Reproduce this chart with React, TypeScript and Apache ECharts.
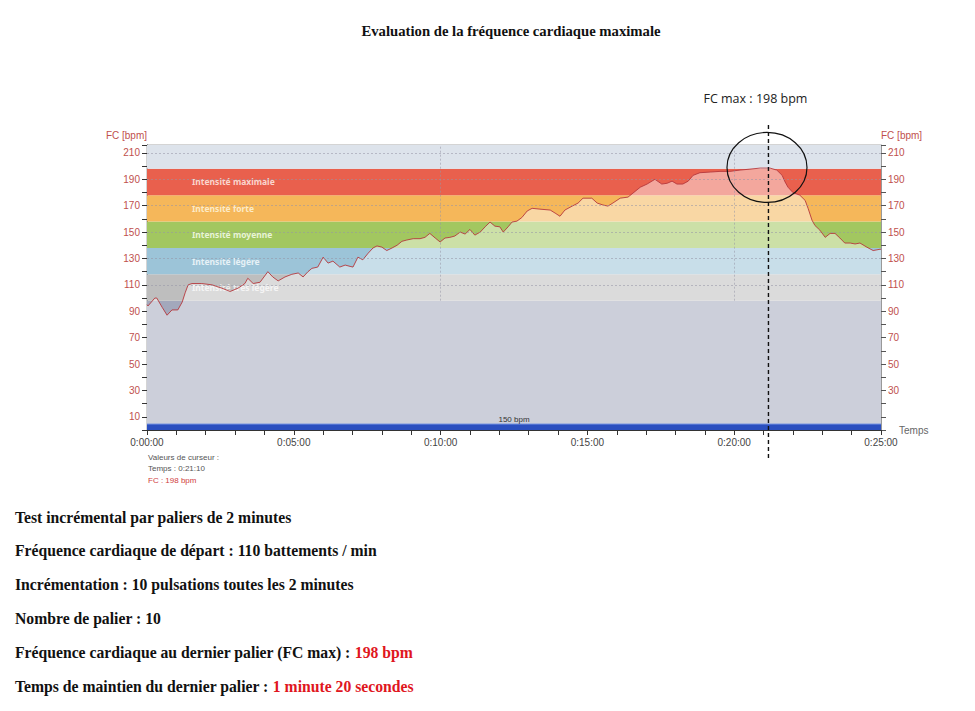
import React, { useEffect, useRef } from "react";
import * as echarts from "echarts";

// ---- data ----
const timeSec = [0,2,16,20,31,41,51,63,72,78,84,92,112,133,153,170,186,200,206,217,231,247,257,268,282,296,309,319,329,337,349,360,370,380,394,405,415,421,431,441,452,462,470,480,490,501,511,521,531,544,558,568,578,589,599,609,619,629,640,650,660,670,681,691,701,711,721,728,738,746,756,766,777,787,803,824,834,844,854,869,881,891,909,920,932,942,952,967,983,993,1008,1022,1038,1052,1063,1073,1083,1095,1106,1116,1130,1151,1171,1191,1212,1232,1253,1273,1287,1298,1304,1310,1320,1334,1345,1351,1359,1365,1375,1386,1396,1406,1416,1426,1437,1447,1457,1471,1484,1498,1500];
const hrBpm = [95,94,100,100,93,87,91,91,97,104,110,111,111,110,107.5,105,107.5,111,115,111,112,120,116,113,116,118,119,116,120,122.5,123.5,131,126.5,128,123.5,125,124,123.5,131,129,134,138,139.5,138.6,136,138,140,143,144,145,145,146,149,145.5,142.5,145.5,146,147,150,148.5,152,147.7,150,154,157.6,154.5,154,150,154,157.6,158.3,161,166,168,167.4,166.7,164.4,162,166.7,169.7,172,175.7,175.7,172,170.5,169.7,172,175.7,176.5,179.5,184,186.4,190,186.4,187,188.6,186.4,186.4,188.6,193,195,195.5,196,196,197,197.7,198.5,198.5,197,193,188,184,180,178,174,168,159,155,151.5,146,149,149,145.5,141.7,141.7,141,141.7,138.6,136,137,137];

const zoneLow = [0, 98, 118, 138, 158, 178, 198];
const zoneHigh = [98, 118, 138, 158, 178, 198, 216];
const zoneNames = ["", "Intensité très légère", "Intensité légère", "Intensité moyenne", "Intensité forte", "Intensité maximale", ""];
const gridValues = [110, 130, 150, 170, 190, 210];
const gridTimes = [600, 1200];
const trackLevel = 4.5;
const trackLabel = "150 bpm";
const cursorTime = 1270;
const fcMax = 198;
const titleText = "Evaluation de la fréquence cardiaque maximale";
const infoLines: [string, string][] = [
  ["Test incrémental par paliers de 2 minutes", ""],
  ["Fréquence cardiaque de départ : 110 battements / min", ""],
  ["Incrémentation : 10 pulsations toutes les 2 minutes", ""],
  ["Nombre de palier : 10", ""],
  ["Fréquence cardiaque au dernier palier (FC max) : ", "198 bpm"],
  ["Temps de maintien du dernier palier : ", "1 minute 20 secondes"],
];

// ---- styles ----
const zoneColors = ["#a3a8bc", "#bebebe", "#9cc4d8", "#a2c760", "#f5b75a", "#e9604d", "#dde3eb"];
const zoneLabelColors = ["#fff", "#ececec", "#e6f1f6", "#e8f4d6", "#fcebc8", "#fad6ce", "#fff"];

const fmtTime = (v: number) => {
  const m = Math.floor(v / 60);
  const s = Math.round(v % 60);
  return `0:${String(m).padStart(2, "0")}:${String(s).padStart(2, "0")}`;
};

const SANS = "'Liberation Sans', Arial, sans-serif";
const SERIF = "'Liberation Serif', 'Times New Roman', serif";

export default function App() {
  const ref = useRef<HTMLDivElement>(null);
  useEffect(() => {
    if (!ref.current) return;
    const chart = echarts.init(ref.current, undefined, { renderer: "svg" });
    const yMax = zoneHigh[zoneHigh.length - 1];
    const option: any = {
      animation: false,
      backgroundColor: "#ffffff",
      textStyle: { fontFamily: SANS },
      grid: { left: 147, top: 145, width: 734, height: 285, show: true, borderColor: "#a8a8a8", borderWidth: 1 },
      xAxis: {
        type: "value",
        min: 0,
        max: 1500,
        interval: 60,
        name: "Temps",
        nameLocation: "end",
        nameGap: 18,
        nameTextStyle: { color: "#666", fontSize: 10, padding: [9, 0, 0, 0] },
        axisLine: { show: true, lineStyle: { color: "#333" } },
        axisTick: { show: true, length: 5, lineStyle: { color: "#333" } },
        axisLabel: { color: "#444", fontSize: 10, margin: 7, formatter: (v: number) => (v % 300 === 0 ? fmtTime(v) : "") },
        splitLine: { show: false },
      },
      yAxis: [
        {
          type: "value",
          min: 0,
          max: yMax,
          interval: 10,
          position: "left",
          name: "FC [bpm]",
          nameLocation: "end",
          nameGap: 5,
          nameTextStyle: { color: "#c0504d", fontSize: 10, align: "right" },
          axisLine: { show: true, lineStyle: { color: "#333" } },
          axisTick: { show: true, length: 5, lineStyle: { color: "#333" } },
          axisLabel: { color: "#c0504d", fontSize: 10, margin: 7, formatter: (v: number) => (v % 20 === 10 ? String(v) : "") },
          splitLine: { show: false },
        },
        {
          type: "value",
          min: 0,
          max: yMax,
          interval: 10,
          position: "right",
          name: "FC [bpm]",
          nameLocation: "end",
          nameGap: 5,
          nameTextStyle: { color: "#c0504d", fontSize: 10, align: "left" },
          axisLine: { show: true, lineStyle: { color: "#999" } },
          axisTick: { show: true, length: 5, lineStyle: { color: "#555" } },
          axisLabel: { color: "#c0504d", fontSize: 10, margin: 7, formatter: (v: number) => (v % 20 === 10 && v > 10 ? String(v) : "") },
          splitLine: { show: false },
        },
      ],
      series: [
        {
          type: "line",
          z: 1,
          data: [[0, 0]],
          symbol: "none",
          lineStyle: { opacity: 0 },
          silent: true,
          markArea: {
            silent: true,
            z: 1,
            data: zoneLow.map((lo, i) => [
              {
                yAxis: lo,
                name: zoneNames[i],
                itemStyle: { color: zoneColors[i] },
                label: {
                  show: zoneNames[i] !== "",
                  position: "insideLeft",
                  distance: 0,
                  offset: [45, 0],
                  color: zoneLabelColors[i],
                  fontSize: 8.5,
                  fontWeight: "bold",
                  fontFamily: "'Noto Sans', sans-serif",
                },
              },
              { yAxis: zoneHigh[i] },
            ]),
          },
        },
        {
          type: "line",
          z: 2,
          data: timeSec.map((t, i) => [t, hrBpm[i]]),
          showSymbol: false,
          symbol: "none",
          lineStyle: { color: "#b5383c", width: 0.9 },
          areaStyle: { color: "rgba(255,255,255,0.45)", opacity: 1 },
          silent: true,
        },
        {
          type: "line",
          z: 3,
          data: [
            [0, trackLevel],
            { value: [750, trackLevel], symbol: "circle", symbolSize: 0, label: { show: true, position: "top", distance: 1, formatter: trackLabel, color: "#333", fontSize: 8 } },
            [1500, trackLevel],
          ],
          showSymbol: true,
          symbol: "none",
          lineStyle: { color: "#6d8de0", width: 1 },
          areaStyle: { color: "#2a4fbf", opacity: 1 },
          silent: true,
          markLine: {
            silent: true,
            symbol: "none",
            label: { show: false },
            lineStyle: { color: "rgba(150,150,165,0.55)", type: [2, 2], width: 1 },
            data: [
              ...gridValues.map((v) => ({ yAxis: v })),
              ...gridTimes.map((t) => [{ coord: [t, zoneLow[1]] }, { coord: [t, yMax] }]),
            ],
          },
        },
      ],
    };
    chart.setOption(option);

    const [lineX] = chart.convertToPixel({ gridIndex: 0 }, [cursorTime, 0]) as number[];
    const [cx, cy] = chart.convertToPixel({ gridIndex: 0 }, [cursorTime - 3, fcMax + 1]) as number[];

    const graphics: any[] = [
      {
        type: "text",
        x: 511,
        y: 31,
        style: { text: titleText, fill: "#111", font: `bold 14.7px ${SERIF}`, align: "center", verticalAlign: "middle" },
      },
      {
        type: "text",
        x: lineX - 13,
        y: 98,
        style: { text: `FC max : ${fcMax} bpm`, fill: "#222", font: `12.5px 'Open Sans', sans-serif`, align: "center", verticalAlign: "middle" },
      },
      {
        type: "line",
        z: 100,
        shape: { x1: lineX, y1: 125, x2: lineX, y2: 458 },
        style: { stroke: "#111", lineWidth: 1.4, lineDash: [4, 3] },
      },
      {
        type: "ellipse",
        z: 100,
        shape: { cx, cy, rx: 40, ry: 35 },
        style: { stroke: "#111", lineWidth: 1.2, fill: "none" },
      },
      {
        type: "text",
        x: 148,
        y: 457,
        style: { text: "Valeurs de curseur :", fill: "#555", font: `8px ${SANS}`, align: "left", verticalAlign: "middle" },
      },
      {
        type: "text",
        x: 148,
        y: 468,
        style: { text: `Temps : ${fmtTime(cursorTime)}`, fill: "#555", font: `8px ${SANS}`, align: "left", verticalAlign: "middle" },
      },
      {
        type: "text",
        x: 148,
        y: 480,
        style: { text: `FC : ${fcMax} bpm`, fill: "#d04040", font: `8px ${SANS}`, align: "left", verticalAlign: "middle" },
      },
      ...infoLines.map(([a, b], i) => ({
        type: "text",
        x: 15,
        y: 517 + i * 33.8,
        style: {
          text: b ? `{b|${a}}{r|${b}}` : `{b|${a}}`,
          align: "left",
          verticalAlign: "middle",
          rich: {
            b: { fill: "#111", fontFamily: SERIF, fontWeight: "bold", fontSize: 15.7 },
            r: { fill: "#e0161e", fontFamily: SERIF, fontWeight: "bold", fontSize: 15.7 },
          },
        },
      })),
    ];
    chart.setOption({ graphic: graphics });

    return () => chart.dispose();
  }, []);
  return <div ref={ref} style={{ position: "absolute", left: 0, top: 0, width: 975, height: 711 }} />;
}
